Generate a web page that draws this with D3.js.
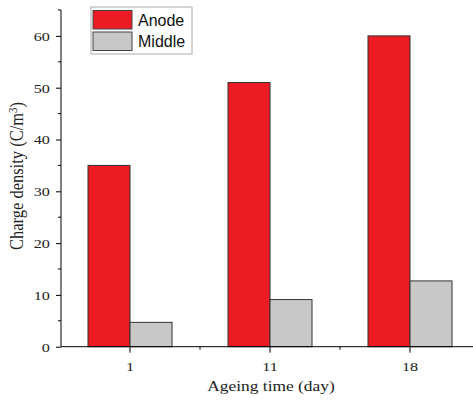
<!DOCTYPE html>
<html>
<head>
<meta charset="utf-8">
<script src="https://cdn.jsdelivr.net/npm/d3@7"></script>
<style>
  body { margin: 0; background: #fff; }
  svg { display: block; }
</style>
</head>
<body>
<div id="chart"></div>
<script>
// data
const categories = ["1", "11", "18"];
const seriesNames = ["Anode", "Middle"];
const anode = [35, 51, 60];
const middle = [4.7, 9.1, 12.7];
const yTicks = [0, 10, 20, 30, 40, 50, 60];

const colors = { Anode: "#ed1c24", Middle: "#c8c8c8" };
const width = 473, height = 401;
const stretch = 1.2; // the original figure is slightly widened

const svg = d3.select("#chart").append("svg")
  .attr("width", width)
  .attr("height", height);

// scales
const x = d3.scaleBand()
  .domain(categories)
  .range([60, 480])
  .paddingInner(0.4)
  .paddingOuter(0.2);

const xSub = d3.scaleBand()
  .domain(seriesNames)
  .range([0, x.bandwidth()]);

const y = d3.scaleLinear()
  .domain([0, 65])
  .range([346.7, 10]);

const values = { Anode: anode, Middle: middle };

// bars
const groups = svg.append("g").selectAll("g")
  .data(categories)
  .join("g")
  .attr("transform", d => `translate(${x(d)},0)`);

groups.selectAll("rect")
  .data((d, i) => seriesNames.map(s => ({ s, v: values[s][i] })))
  .join("rect")
  .attr("x", d => xSub(d.s))
  .attr("y", d => y(d.v))
  .attr("width", xSub.bandwidth())
  .attr("height", d => y(0) - y(d.v))
  .attr("fill", d => colors[d.s])
  .attr("stroke", "#333")
  .attr("stroke-width", 1);

// y axis
const yAxis = d3.axisLeft(y)
  .tickValues(yTicks)
  .tickSize(5)
  .tickPadding(4.2)
  .tickFormat(d3.format("d"));

const yg = svg.append("g")
  .attr("transform", "translate(61,0)")
  .call(yAxis);
yg.select(".domain").attr("d", `M0,${y(65)}V${y(0)}`);
yg.selectAll("line, path").attr("stroke", "#000");
yg.selectAll(".tick text")
  .attr("font-family", "Liberation Serif, serif")
  .attr("font-size", 13.5)
  .attr("fill", "#222")
  .attr("transform", `scale(${stretch},1)`);

// minor y ticks
const yMinor = d3.range(5, 70, 10);
yg.selectAll(".minor")
  .data(yMinor)
  .join("line")
  .attr("class", "minor")
  .attr("x1", -3).attr("x2", 0)
  .attr("y1", d => y(d)).attr("y2", d => y(d))
  .attr("stroke", "#000");

// x axis
const centers = categories.map(c => x(c) + x.bandwidth() / 2);
const xg = svg.append("g")
  .attr("transform", `translate(0,${y(0)})`);

xg.append("line")
  .attr("x1", 61).attr("x2", 480)
  .attr("y1", 0).attr("y2", 0)
  .attr("stroke", "#000");

xg.selectAll(".major")
  .data(centers)
  .join("line")
  .attr("class", "major")
  .attr("x1", d => d).attr("x2", d => d)
  .attr("y1", 0).attr("y2", 6)
  .attr("stroke", "#000");

xg.selectAll(".minor")
  .data(centers.slice(1).map((c, i) => (c + centers[i]) / 2))
  .join("line")
  .attr("class", "minor")
  .attr("x1", d => d).attr("x2", d => d)
  .attr("y1", 0).attr("y2", 3)
  .attr("stroke", "#000");

xg.selectAll(".lbl")
  .data(categories)
  .join("text")
  .attr("class", "lbl")
  .attr("transform", d => `translate(${x(d) + x.bandwidth() / 2},24.5) scale(${stretch},1)`)
  .attr("text-anchor", "middle")
  .attr("font-family", "Liberation Serif, serif")
  .attr("font-size", 13.5)
  .attr("fill", "#222")
  .text(d => d);

// axis titles
svg.append("text")
  .attr("transform", `translate(271,391) scale(${stretch},1)`)
  .attr("text-anchor", "middle")
  .attr("font-family", "Liberation Serif, serif")
  .attr("font-size", 14.5)
  .attr("fill", "#222")
  .text("Ageing time (day)");

const yt = svg.append("text")
  .attr("transform", `translate(23,176) scale(${stretch},1) rotate(-90)`)
  .attr("text-anchor", "middle")
  .attr("font-family", "Liberation Serif, serif")
  .attr("font-size", 16.5)
  .attr("fill", "#222");
yt.append("tspan").text("Charge density (C/m");
yt.append("tspan").attr("dy", -5).attr("font-size", 11).text("3");
yt.append("tspan").attr("dy", 5).text(")");

// legend
const legend = svg.append("g").attr("transform", "translate(91,7)");
legend.append("rect")
  .attr("width", 101).attr("height", 47)
  .attr("fill", "#fff")
  .attr("stroke", "#aaa");

const items = legend.selectAll(".item")
  .data(seriesNames)
  .join("g")
  .attr("class", "item")
  .attr("transform", (d, i) => `translate(2,${3.5 + i * 21.5})`);

items.append("rect")
  .attr("width", 39).attr("height", 18.5)
  .attr("fill", d => colors[d])
  .attr("stroke", "#444");

items.append("text")
  .attr("x", 45)
  .attr("y", 15)
  .attr("font-family", "Liberation Sans, Arial, sans-serif")
  .attr("font-size", 16)
  .attr("fill", "#111")
  .text(d => d);
</script>
</body>
</html>
